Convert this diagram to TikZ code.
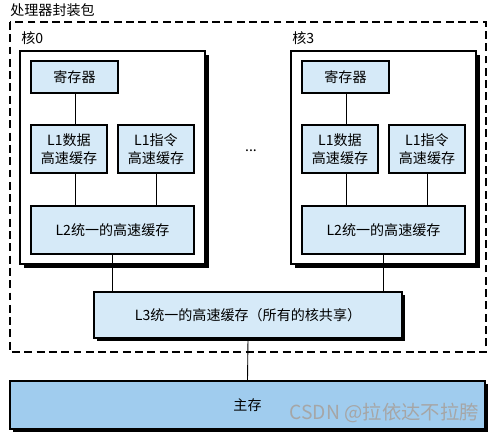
\documentclass[tikz,border=0pt]{standalone}
\usepackage{fontspec}
\newfontfamily\cjk{Noto Sans CJK SC}
\usetikzlibrary{positioning,shadows}

\definecolor{cachefill}{RGB}{214,234,248}
\definecolor{memfill}{RGB}{160,204,238}
\def\px{0.02cm}

\begin{document}
\begin{tikzpicture}[x=0.02cm,y=-0.02cm,
  font=\cjk\fontsize{8}{10}\selectfont,
  cachebox/.style={draw,line width=0.6pt,fill=cachefill,inner sep=0pt,
    outer sep=0pt,align=center},
  corebox/.style={draw,line width=0.6pt,fill=white,inner sep=0pt,outer sep=0pt,
    minimum width=185*\px,minimum height=213*\px,
    drop shadow={shadow xshift=2.2pt,shadow yshift=-2.2pt,fill=black,opacity=1}},
  bigbox/.style={cachebox,
    drop shadow={shadow xshift=1.6pt,shadow yshift=-1.6pt,fill=black,opacity=1}},
  wire/.style={line width=0.5pt}]

\useasboundingbox (0,0) rectangle (503,435);

%------------------------
% Processor package
%------------------------
\node[anchor=west,inner sep=0pt] (pkglabel) at (10,10) {处理器封装包};
\draw[line width=0.6pt,dash pattern=on 4.5pt off 2.5pt] (10,22) rectangle (486,352);

%------------------------
% Cores 0 and 3
%------------------------
\foreach \c/\dx in {0/0,3/271}{
  \node[corebox] (core\c) at (112.5+\dx,157.5) {};
  \node[anchor=west,inner sep=0pt] (corelabel\c) at (21+\dx,38) {核\c};
  \node[cachebox,minimum width=87*\px,minimum height=32*\px]
    (reg\c) at (74.5+\dx,77) {寄存器};
  \node[cachebox,minimum width=76*\px,minimum height=48*\px]
    (lod\c) at (69+\dx,149) {L1数据\\高速缓存};
  \node[cachebox,minimum width=76*\px,minimum height=48*\px]
    (loi\c) at (156+\dx,149) {L1指令\\高速缓存};
  \node[cachebox,minimum width=163*\px,minimum height=48*\px]
    (ltwo\c) at (112.5+\dx,230) {L2统一的高速缓存};
  % connectors inside the core
  \coordinate (regout\c) at (75+\dx,93);
  \draw[wire] (regout\c) -- (regout\c |- lod\c.north);
  \draw[wire] (regout\c |- lod\c.south) -- (regout\c |- ltwo\c.north);
  \draw[wire] (loi\c.south) -- (loi\c.south |- ltwo\c.north);
}

\node (dots) at (251,151) {...};

%------------------------
% L3 and main memory
%------------------------
\node[bigbox,minimum width=308*\px,minimum height=46*\px]
  (lthree) at (248,315) {L3统一的高速缓存（所有的核共享）};
\node[bigbox,fill=memfill,minimum width=475*\px,minimum height=48*\px]
  (mem) at (247.5,405) {主存};

\draw[wire] (ltwo0.south) -- (ltwo0.south |- lthree.north);
\draw[wire] (ltwo3.south) -- (ltwo3.south |- lthree.north);
\draw[wire] (lthree.south) -- (mem.north);

% watermark
\node[anchor=east,text=black!35,font=\fontsize{11}{12}\selectfont\cjk]
  (mark) at (485,413) {CSDN @拉依达不拉胯};

\end{tikzpicture}
\end{document}
